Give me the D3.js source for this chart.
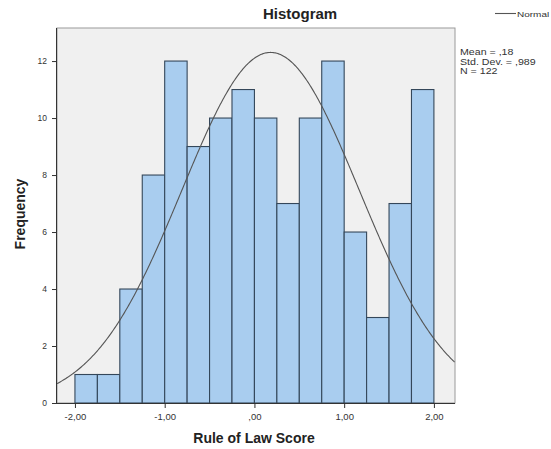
<!DOCTYPE html>
<html>
<head>
<meta charset="utf-8">
<script src="https://cdn.jsdelivr.net/npm/d3@7"></script>
<style>
  html, body { margin: 0; padding: 0; background: #ffffff; }
  svg { display: block; font-family: "Liberation Sans", Arial, sans-serif; }
</style>
</head>
<body>
<svg id="chart" width="551" height="449"></svg>
<script>
// Histogram of Rule of Law Score with fitted normal curve
const binEdgesStart = [-2.00, -1.75, -1.50, -1.25, -1.00, -0.75, -0.50, -0.25, 0.00, 0.25, 0.50, 0.75, 1.00, 1.25, 1.50, 1.75];
const binWidth = 0.25;
const frequencies = [1, 1, 4, 8, 12, 9, 10, 11, 10, 7, 10, 12, 6, 3, 7, 11];

const xTickValues = [-2, -1, 0, 1, 2];
const xTickLabels = ["-2,00", "-1,00", ",00", "1,00", "2,00"];
const yTickValues = [0, 2, 4, 6, 8, 10, 12];
const yTickLabels = ["0", "2", "4", "6", "8", "10", "12"];

const statLabels = ["Mean = ,18", "Std. Dev. = ,989", "N = 122"];
const normalMean = 0.18;
const normalSd = 0.989;
const sampleN = 122;

const svg = d3.select("#chart");

const plot = { left: 57, right: 455, top: 28, bottom: 403 };

const x = d3.scaleLinear().domain([-2.2, 2.235]).range([plot.left, plot.right]);
const y = d3.scaleLinear().domain([0, 13.16]).range([plot.bottom, plot.top]);

// plot background
svg.append("rect")
  .attr("x", plot.left).attr("y", plot.top)
  .attr("width", plot.right - plot.left).attr("height", plot.bottom - plot.top)
  .attr("fill", "#f0f0f0")
  .attr("stroke", "#9a9a9a").attr("stroke-width", 1);

// bars
svg.append("g").selectAll("rect")
  .data(frequencies)
  .join("rect")
  .attr("x", (d, i) => x(binEdgesStart[i]))
  .attr("y", d => y(d))
  .attr("width", (d, i) => x(binEdgesStart[i] + binWidth) - x(binEdgesStart[i]))
  .attr("height", d => y(0) - y(d))
  .attr("fill", "#a9cdef")
  .attr("stroke", "#34475a")
  .attr("stroke-width", 1.1);

// normal curve scaled to counts
const scaleFactor = sampleN * binWidth / (normalSd * Math.sqrt(2 * Math.PI));
const curvePts = d3.range(-2.2, 2.2351, 0.01).map(v => [v, scaleFactor * Math.exp(-0.5 * Math.pow((v - normalMean) / normalSd, 2))]);
svg.append("path")
  .datum(curvePts)
  .attr("d", d3.line().x(d => x(d[0])).y(d => y(d[1])))
  .attr("fill", "none")
  .attr("stroke", "#555555")
  .attr("stroke-width", 1.1);

// axes
const xAxis = d3.axisBottom(x).tickValues(xTickValues)
  .tickFormat((d, i) => xTickLabels[i]).tickSize(5).tickSizeOuter(0);
const gx = svg.append("g").attr("transform", `translate(0,${plot.bottom})`).call(xAxis);
gx.select(".domain").attr("d", `M${plot.left},0.5H${plot.right}`).attr("stroke", "#333");
gx.selectAll(".tick line").attr("stroke", "#333");
gx.selectAll(".tick text").attr("font-size", 9.5).attr("fill", "#333").attr("dy", "0.9em")
  .attr("font-family", "Liberation Sans, Arial, sans-serif");

const yAxis = d3.axisLeft(y).tickValues(yTickValues)
  .tickFormat((d, i) => yTickLabels[i]).tickSize(5).tickSizeOuter(0);
const gy = svg.append("g").attr("transform", `translate(${plot.left},0)`).call(yAxis);
gy.select(".domain").attr("d", `M-0.5,${plot.top}V${plot.bottom}`).attr("stroke", "#333");
gy.selectAll(".tick line").attr("stroke", "#333");
gy.selectAll(".tick text").attr("font-size", 8.5).attr("fill", "#333").attr("x", -10)
  .attr("font-family", "Liberation Sans, Arial, sans-serif");

// titles
svg.append("text").attr("x", 263).attr("y", 19)
  .attr("font-size", 15).attr("font-weight", "bold").attr("fill", "#222")
  .text("Histogram");

svg.append("text").attr("x", 254).attr("y", 443)
  .attr("text-anchor", "middle")
  .attr("font-size", 14).attr("font-weight", "bold").attr("fill", "#222")
  .text("Rule of Law Score");

svg.append("text")
  .attr("transform", "translate(25,214) rotate(-90)")
  .attr("text-anchor", "middle")
  .attr("font-size", 14).attr("font-weight", "bold").attr("fill", "#222")
  .text("Frequency");

// legend
svg.append("line").attr("x1", 495).attr("x2", 516).attr("y1", 13.5).attr("y2", 13.5)
  .attr("stroke", "#555").attr("stroke-width", 1.1);
svg.append("text").attr("transform", "translate(517,16.5) scale(1.25,1)")
  .attr("font-size", 8).attr("fill", "#333").text("Normal");

// summary statistics, drawn slightly widened
svg.append("g").attr("transform", "translate(460,0) scale(1.25,1)")
  .selectAll("text")
  .data(statLabels)
  .join("text")
  .attr("x", 0)
  .attr("y", (d, i) => 55 + i * 9.7)
  .attr("font-size", 8.5)
  .attr("fill", "#333")
  .text(d => d);
</script>
</body>
</html>
